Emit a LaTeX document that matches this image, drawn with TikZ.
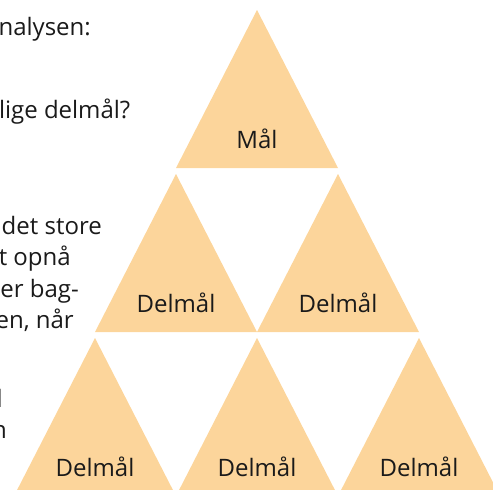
\documentclass[tikz,border=0pt]{standalone}
\usepackage{fontspec}
\setmainfont{Open Sans}
\usepackage{tikz}
\usetikzlibrary{positioning}
\definecolor{goalorange}{HTML}{FCD59B}
\definecolor{textdark}{HTML}{1A1A1A}

\begin{document}
\begin{tikzpicture}[x=1pt, y=-1pt,
    tri/.style={fill=goalorange},
    lbl/.style={font=\fontsize{24}{29}\selectfont, text=textdark, anchor=base, inner sep=0pt},
    txt/.style={font=\fontsize{24}{29}\selectfont, text=textdark, anchor=base east, inner sep=0pt}]
    \useasboundingbox (0,0) rectangle (493,490);
    \clip (0,0) rectangle (493,490);
    % Pyramid of goals
    \foreach \x/\y/\name/\lab in {257/10/mal/Mål,
                                  176/174/delA/Delmål, 338/174/delB/Delmål,
                                  95/338/delC/Delmål, 257/338/delD/Delmål, 419/338/delE/Delmål} {
        \fill[tri] (\x,\y) -- ++(81,158) -- ++(-162,0) -- cycle;
        \node[lbl] (\name) at (\x,\y+138) {\lab};
    }
    % Questions, cut at the left edge
    \node[txt] (qa) at (91,35) {nalysen:};
    \node[txt] (qb) at (130.5,118) {elige delmål?};
    \node[txt] (qc) at (102,234) {det store};
    \node[txt] (qd) at (71,265.5) {t opnå};
    \node[txt] (qe) at (79,297) {er bag-};
    \node[txt] (qf) at (74,328.5) {en, når};
    \node[txt] (qg) at (3,407) {l};
    \node[txt] (qh) at (7,438) {n};
\end{tikzpicture}
\end{document}
